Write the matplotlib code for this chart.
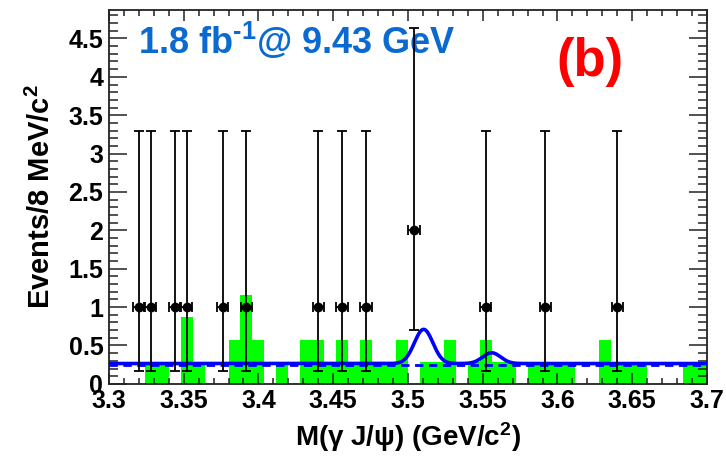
import numpy as np
import matplotlib
matplotlib.use("Agg")
import matplotlib.pyplot as plt
from matplotlib.ticker import FixedLocator, MultipleLocator

plt.rcParams['font.family'] = ['Liberation Sans', 'DejaVu Sans']
plt.rcParams['font.weight'] = 'bold'
plt.rcParams['mathtext.fontset'] = 'custom'
plt.rcParams['mathtext.rm'] = 'Liberation Sans:bold'
plt.rcParams['mathtext.bf'] = 'Liberation Sans:bold'
plt.rcParams['mathtext.it'] = 'Liberation Sans:bold'

# ---- binning: 8 MeV bins from 3.30 to 3.70 GeV ----
x_lo, x_hi, bin_w = 3.30, 3.70, 0.008

# scaled MC histogram (green): counts per bin and scale factor
mc_counts = [0, 0, 0, 1, 1, 0, 3, 1, 0, 0,
             2, 4, 2, 0, 1, 0, 2, 2, 1, 2,
             1, 2, 1, 1, 2, 0, 1, 1, 2, 0,
             1, 2, 1, 1, 0, 1, 1, 1, 1, 0,
             0, 2, 1, 1, 1, 0, 0, 0, 1, 1]
mc_scale = 0.289

# data points (non-empty bins only)
data_x = [3.320, 3.328, 3.344, 3.352, 3.376, 3.392, 3.440,
          3.456, 3.472, 3.504, 3.552, 3.592, 3.640]
data_n = [1, 1, 1, 1, 1, 1, 1, 1, 1, 2, 1, 1, 1]
# Poisson 68% intervals
poisson_lo = {1: 0.827, 2: 1.292}
poisson_hi = {1: 2.300, 2: 2.638}

# fit result: flat background + two gaussian peaks
bkg_level = 0.250
total_flat = 0.265
peak_mass = [3.5105, 3.5560]
peak_amp = [0.445, 0.140]
peak_sigma = [0.0062, 0.0060]

x_ticks = [3.30, 3.35, 3.40, 3.45, 3.50, 3.55, 3.60, 3.65, 3.70]
x_tick_labels = ['3.3', '3.35', '3.4', '3.45', '3.5', '3.55', '3.6', '3.65', '3.7']
y_ticks = [0, 0.5, 1, 1.5, 2, 2.5, 3, 3.5, 4, 4.5]
y_tick_labels = ['0', '0.5', '1', '1.5', '2', '2.5', '3', '3.5', '4', '4.5']
y_max = 4.87

fig = plt.figure(figsize=(7.26, 4.57), dpi=100)
ax = fig.add_axes([0.150, 0.160, 0.8238, 0.818])

# green histogram
edges = x_lo + bin_w * np.arange(len(mc_counts))
heights = np.array(mc_counts) * mc_scale
ax.bar(edges, heights, width=bin_w, align='edge', color='#00ff00',
       linewidth=0, zorder=1)

# fit curves
xf = np.linspace(x_lo, x_hi, 1601)
total = np.full_like(xf, total_flat)
for m, a, s in zip(peak_mass, peak_amp, peak_sigma):
    total += a * np.exp(-0.5 * ((xf - m) / s) ** 2)
ax.plot([x_lo, x_hi], [bkg_level, bkg_level], color='#0000ff', lw=2.0,
        ls=(0, (3, 2)), zorder=3)
ax.plot(xf, total, color='#0000ff', lw=2.6, zorder=4)

# data points
dn = np.array(data_n)
yerr = np.array([[poisson_lo[n] for n in data_n], [poisson_hi[n] for n in data_n]])
ax.errorbar(data_x, dn, yerr=yerr, xerr=0.0038, fmt='o', color='black',
            ms=6, elinewidth=1.3, capsize=3.5, capthick=1.3, zorder=5)

ax.set_xlim(x_lo, x_hi)
ax.set_ylim(0, y_max)

ax.xaxis.set_major_locator(FixedLocator(x_ticks))
ax.set_xticklabels(x_tick_labels)
ax.xaxis.set_minor_locator(MultipleLocator(0.01))
ax.yaxis.set_major_locator(FixedLocator(y_ticks))
ax.set_yticklabels(y_tick_labels)
ax.yaxis.set_minor_locator(MultipleLocator(0.1))

ax.tick_params(which='both', direction='in', top=True, right=True,
               width=1.1, color='#222222')
ax.tick_params(axis='x', which='major', length=8, pad=4, labelsize=18)
ax.tick_params(axis='x', which='minor', length=4)
ax.tick_params(axis='y', which='major', length=13, pad=4, labelsize=18)
ax.tick_params(axis='y', which='minor', length=6.5)
for lab in ax.get_xticklabels() + ax.get_yticklabels():
    lab.set_fontweight('bold')
for sp in ax.spines.values():
    sp.set_linewidth(1.3)
    sp.set_color('#222222')

ax.set_xlabel('M(γ J/ψ) (GeV/c$^{2}$)', fontsize=20,
              fontweight='bold', labelpad=5)
ax.set_ylabel('Events/8 MeV/c$^{2}$', fontsize=21, fontweight='bold',
              labelpad=9)

ax.text(0.048, 0.915, r'1.8 fb$^{\text{-}1}$@ 9.43 GeV', transform=ax.transAxes,
        color='#0a6ad2', fontsize=26, fontweight='bold', ha='left', va='center')
ax.text(0.805, 0.86, '(b)', transform=ax.transAxes, color='#ff0000',
        fontsize=38, fontweight='bold', ha='center', va='center')

fig.savefig('out.png', dpi=100)
